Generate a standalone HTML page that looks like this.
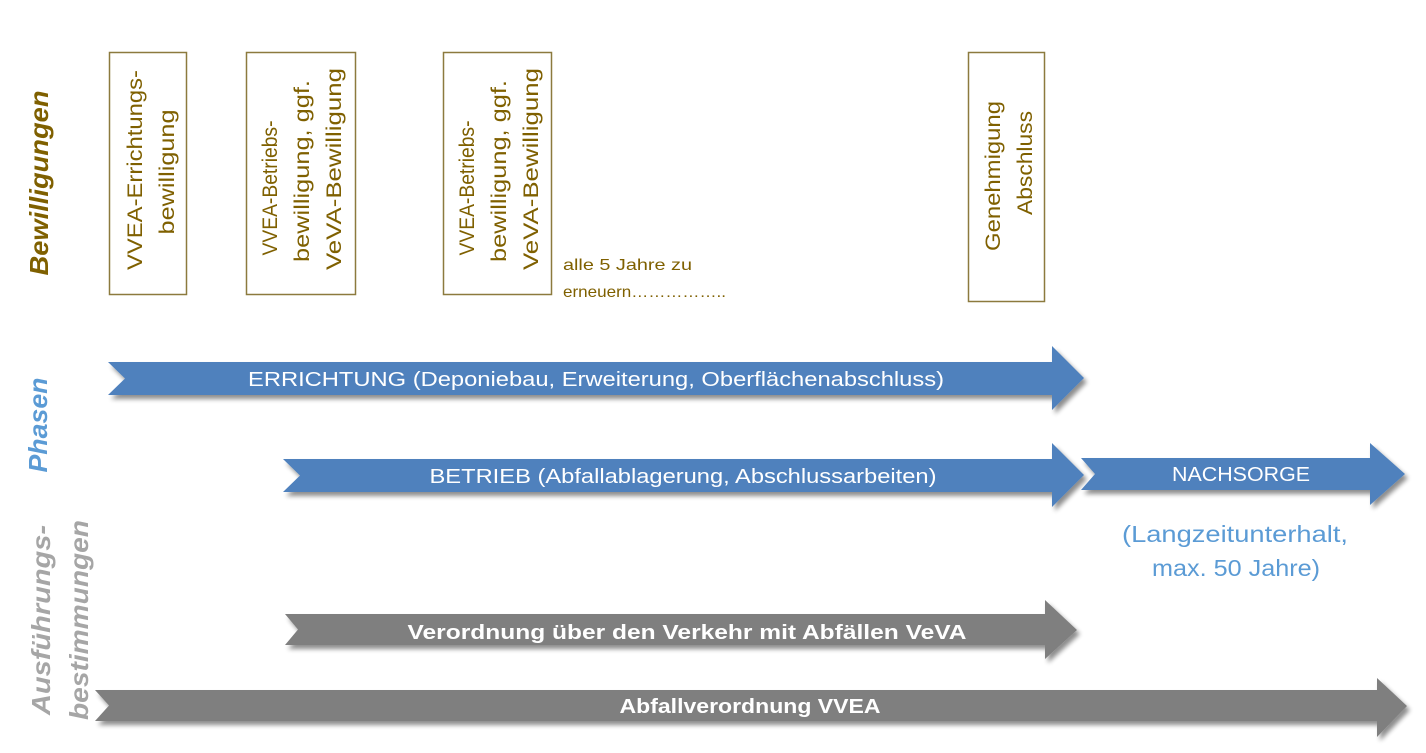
<!DOCTYPE html>
<html><head><meta charset="utf-8"><style>
html,body{margin:0;padding:0;background:#fff;}
svg{display:block;font-family:"Liberation Sans",sans-serif;}
</style></head><body>
<svg width="1426" height="753" viewBox="0 0 1426 753" xmlns="http://www.w3.org/2000/svg">
<defs>
<filter id="sh" x="-5%" y="-30%" width="110%" height="170%">
<feGaussianBlur in="SourceAlpha" stdDeviation="2.5"/>
<feOffset dx="3" dy="4"/>
<feComponentTransfer><feFuncA type="linear" slope="0.45"/></feComponentTransfer>
<feMerge><feMergeNode/><feMergeNode in="SourceGraphic"/></feMerge>
</filter>
</defs>

<!-- side labels -->
<g font-weight="bold" font-style="italic">
<text transform="translate(48,183) rotate(-90)" text-anchor="middle" font-size="26" fill="#7f6000" textLength="185" lengthAdjust="spacingAndGlyphs">Bewilligungen</text>
<text transform="translate(47,425) rotate(-90)" text-anchor="middle" font-size="26" fill="#5b9bd5" textLength="95" lengthAdjust="spacingAndGlyphs">Phasen</text>
<text transform="translate(50,620) rotate(-90)" text-anchor="middle" font-size="26" fill="#a6a6a6" textLength="190" lengthAdjust="spacingAndGlyphs">Ausführungs-</text>
<text transform="translate(88,620) rotate(-90)" text-anchor="middle" font-size="26" fill="#a6a6a6" textLength="200" lengthAdjust="spacingAndGlyphs">bestimmungen</text>
</g>

<!-- boxes -->
<g fill="none" stroke="#8c7a3e" stroke-width="1.5">
<rect x="109.5" y="52.5" width="77" height="242"/>
<rect x="246.5" y="52.5" width="109" height="242"/>
<rect x="443.5" y="52.5" width="108" height="242"/>
<rect x="968.5" y="52.5" width="76" height="249"/>
</g>
<g fill="#7f6000" font-size="21" text-anchor="middle" lengthAdjust="spacingAndGlyphs">
<text transform="translate(142,170) rotate(-90)" textLength="200" lengthAdjust="spacingAndGlyphs">VVEA-Errichtungs-</text>
<text transform="translate(174,172) rotate(-90)" textLength="125" lengthAdjust="spacingAndGlyphs">bewilligung</text>
<text transform="translate(277,188) rotate(-90)" textLength="135" lengthAdjust="spacingAndGlyphs">VVEA-Betriebs-</text>
<text transform="translate(309,171) rotate(-90)" textLength="182" lengthAdjust="spacingAndGlyphs">bewilligung, ggf.</text>
<text transform="translate(341,169) rotate(-90)" textLength="202" lengthAdjust="spacingAndGlyphs">VeVA-Bewilligung</text>
<text transform="translate(474,188) rotate(-90)" textLength="135" lengthAdjust="spacingAndGlyphs">VVEA-Betriebs-</text>
<text transform="translate(506,171) rotate(-90)" textLength="182" lengthAdjust="spacingAndGlyphs">bewilligung, ggf.</text>
<text transform="translate(538,169) rotate(-90)" textLength="202" lengthAdjust="spacingAndGlyphs">VeVA-Bewilligung</text>
<text transform="translate(1000,176) rotate(-90)" textLength="150" lengthAdjust="spacingAndGlyphs">Genehmigung</text>
<text transform="translate(1032,163) rotate(-90)" textLength="104" lengthAdjust="spacingAndGlyphs">Abschluss</text>
</g>
<g fill="#7f6000" font-size="16">
<text x="563" y="270" textLength="129" lengthAdjust="spacingAndGlyphs">alle 5 Jahre zu</text>
<text x="563" y="297" textLength="163" lengthAdjust="spacingAndGlyphs">erneuern……………..</text>
</g>

<!-- arrows -->
<g filter="url(#sh)">
<polygon fill="#4f81bd" points="108,362 1052,362 1052,346 1084,378 1052,410 1052,395 108,395 125,378.5"/>
<polygon fill="#4f81bd" points="283,459 1052,459 1052,443 1084,475 1052,507 1052,492 283,492 300,475.5"/>
<polygon fill="#4f81bd" points="1081,458 1370,458 1370,443 1405,474 1370,505 1370,490 1081,490 1095,474"/>
<polygon fill="#7f7f7f" points="285,614 1045,614 1045,600 1077,630 1045,659 1045,645 285,645 298,629.5"/>
<polygon fill="#7f7f7f" points="95,690 1377,690 1377,678 1407,706 1377,737 1377,721 95,721 109,705.5"/>
</g>

<g fill="#fff" font-size="20" text-anchor="middle">
<text x="596" y="386" textLength="696" lengthAdjust="spacingAndGlyphs">ERRICHTUNG (Deponiebau, Erweiterung, Oberflächenabschluss)</text>
<text x="683" y="483" textLength="507" lengthAdjust="spacingAndGlyphs">BETRIEB (Abfallablagerung, Abschlussarbeiten)</text>
<text x="1241" y="481" textLength="138" lengthAdjust="spacingAndGlyphs">NACHSORGE</text>
<text x="687" y="639" font-weight="bold" textLength="559" lengthAdjust="spacingAndGlyphs">Verordnung über den Verkehr mit Abfällen VeVA</text>
<text x="750" y="713" font-weight="bold" textLength="261" lengthAdjust="spacingAndGlyphs">Abfallverordnung VVEA</text>
</g>
<g fill="#5b9bd5" font-size="23" text-anchor="middle">
<text x="1235" y="542" textLength="226" lengthAdjust="spacingAndGlyphs">(Langzeitunterhalt,</text>
<text x="1236" y="576" textLength="168" lengthAdjust="spacingAndGlyphs">max. 50 Jahre)</text>
</g>
</svg>
</body></html>
